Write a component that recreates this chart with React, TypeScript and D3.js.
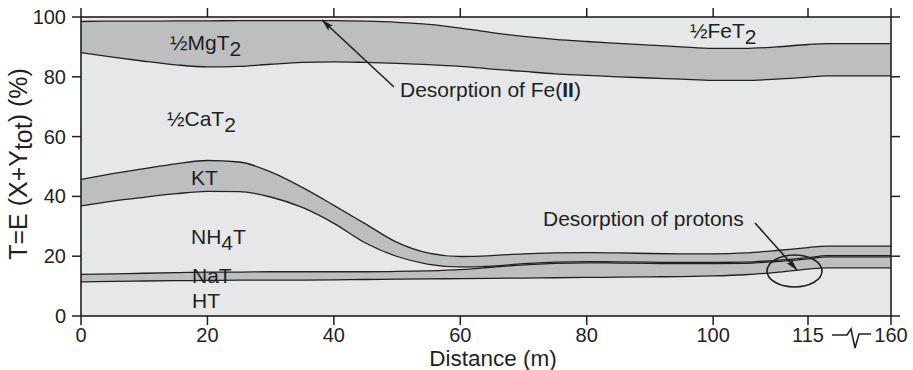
import React from 'react';
import * as d3 from 'd3';

// Distance along the flow path (m); the axis is broken between 115 and 160
const distance = [0, 5, 10, 15, 20, 25, 30, 35, 40, 45, 50, 55, 60, 65, 70, 75, 80, 85, 90, 95, 100, 105, 110, 115, 125, 160];

// Equivalent fractions of the exchanger (%), bottom to top
const HT = [11.4, 11.6, 11.7, 11.8, 11.9, 12.0, 12.0, 12.0, 12.1, 12.2, 12.3, 12.4, 12.5, 12.6, 12.7, 12.8, 12.9, 13.0, 13.1, 13.2, 13.4, 13.8, 14.6, 15.7, 16.1, 16.1];
const NaT = [2.5, 2.5, 2.6, 2.7, 2.8, 2.7, 2.8, 2.8, 2.7, 2.6, 2.6, 2.7, 3.0, 3.7, 4.4, 4.8, 4.9, 4.7, 4.5, 4.3, 4.1, 3.8, 3.6, 3.4, 3.7, 3.7];
const NH4T = [22.9, 24.3, 25.4, 26.4, 27.0, 26.9, 25.0, 21.5, 16.2, 9.6, 5.0, 2.2, 0.9, 0.4, 0.4, 0.4, 0.4, 0.4, 0.4, 0.4, 0.4, 0.4, 0.4, 0.4, 0.4, 0.4];
const KT = [8.9, 9.2, 9.6, 10.0, 10.3, 9.9, 8.4, 6.7, 6.0, 6.4, 4.7, 3.7, 3.5, 3.5, 3.3, 3.1, 3.0, 3.0, 2.9, 2.9, 2.9, 3.1, 3.3, 3.4, 3.2, 3.2];
const CaT = [42.4, 39.0, 35.9, 33.1, 31.3, 32.0, 36.0, 41.8, 48.0, 54.0, 59.9, 63.1, 63.6, 62.4, 61.0, 59.9, 59.3, 58.9, 58.7, 58.4, 58.0, 57.7, 57.3, 57.0, 56.9, 56.9];
const MgT = [10.4, 12.0, 13.4, 14.7, 15.4, 15.3, 14.6, 14.0, 13.8, 13.8, 13.7, 13.4, 12.8, 12.2, 11.7, 11.5, 11.3, 11.2, 11.0, 10.8, 10.7, 10.7, 10.8, 10.9, 10.8, 10.8];
const FeT = [1.5, 1.4, 1.4, 1.3, 1.3, 1.2, 1.2, 1.2, 1.2, 1.4, 1.8, 2.5, 3.7, 5.2, 6.5, 7.5, 8.2, 8.8, 9.4, 10.0, 10.5, 10.5, 10.0, 9.2, 8.9, 8.9];

const speciesKeys = ['HT', 'NaT', 'NH4T', 'KT', 'CaT', 'MgT', 'FeT'];
const speciesValues: Record<string, number[]> = { HT, NaT, NH4T, KT, CaT, MgT, FeT };

const xTicks = [0, 20, 40, 60, 80, 100, 115, 160];
const yTicks = [0, 20, 40, 60, 80, 100];

const LIGHT = '#e6e7e8';
const GREY = '#bcbec0';
const INK = '#231f20';
const FONT = '"Liberation Sans", Arial, Helvetica, sans-serif';

export default function App() {
  const width = 913;
  const height = 370;
  const left = 81, right = 891, top = 17, bottom = 316;

  const x = d3.scaleLinear().domain([0, 115, 160]).range([left, 808, right]);
  const y = d3.scaleLinear().domain([0, 100]).range([bottom, top]);

  const rows = distance.map((d, i) => {
    const r: Record<string, number> = { distance: d };
    speciesKeys.forEach((k) => (r[k] = speciesValues[k][i]));
    return r;
  });
  const stacked = d3.stack<Record<string, number>>().keys(speciesKeys)(rows);

  const area = d3
    .area<[number, number]>()
    .x((_, i) => x(distance[i]))
    .y0((d) => y(d[0]))
    .y1((d) => y(d[1]))
    .curve(d3.curveMonotoneX);

  const line = d3
    .line<[number, number]>()
    .x((_, i) => x(distance[i]))
    .y((d) => y(d[1]))
    .curve(d3.curveMonotoneX);

  const fills = [LIGHT, GREY, LIGHT, GREY, LIGHT, GREY, LIGHT];
  const tick = 9;

  return (
    <svg
      width={width}
      height={height}
      style={{ position: 'absolute', left: 0, top: 0, background: '#fff' }}
      fontFamily={FONT}
    >
      <defs>
        <marker id="arrowHead" viewBox="0 0 12 8" refX="12" refY="4" markerWidth="12" markerHeight="8" markerUnits="userSpaceOnUse" orient="auto">
          <path d="M0,0.6 L12,4 L0,7.4 L2.5,4 Z" fill={INK} />
        </marker>
        <clipPath id="plotClip">
          <rect x={left} y={top} width={right - left} height={bottom - top} />
        </clipPath>
      </defs>

      <g clipPath="url(#plotClip)">
        {stacked.map((s, i) => (
          <path key={s.key} d={area(s as any) || ''} fill={fills[i]} stroke="none" />
        ))}
        {stacked.slice(0, -1).map((s) => (
          <path key={'l' + s.key} d={line(s as any) || ''} fill="none" stroke={INK} strokeWidth={1.3} />
        ))}
      </g>

      {/* frame */}
      <rect x={left} y={top} width={right - left} height={bottom - top} fill="none" stroke={INK} strokeWidth={1.6} />

      {/* x ticks, bottom and top */}
      {xTicks.map((t) => (
        <g key={'xt' + t}>
          <line x1={x(t)} x2={x(t)} y1={bottom} y2={bottom + tick} stroke={INK} strokeWidth={1.5} />
          <line x1={x(t)} x2={x(t)} y1={top} y2={top - tick} stroke={INK} strokeWidth={1.5} />
          <text x={x(t)} y={342} textAnchor="middle" fontSize={20} fill={INK}>
            {t}
          </text>
        </g>
      ))}

      {/* axis break marker between 115 and 160 */}
      <path d="M832,335 L847,335 L851,329 L855,348 L859,334 L871,334" fill="none" stroke={INK} strokeWidth={1.6} strokeLinejoin="miter" />

      {/* y ticks, left and right */}
      {yTicks.map((t) => (
        <g key={'yt' + t}>
          <line x1={left - tick} x2={left} y1={y(t)} y2={y(t)} stroke={INK} strokeWidth={1.5} />
          <line x1={right} x2={right + tick} y1={y(t)} y2={y(t)} stroke={INK} strokeWidth={1.5} />
          <text x={66} y={y(t) + 7} textAnchor="end" fontSize={20} fill={INK}>
            {t}
          </text>
        </g>
      ))}

      {/* axis titles */}
      <text x={493} y={366} textAnchor="middle" fontSize={22.5} fill={INK}>
        Distance (m)
      </text>
      <text transform="translate(27,164) rotate(-90)" textAnchor="middle" fontSize={25} fill={INK}>
        T=E (X+Y<tspan dy={5}>tot</tspan>
        <tspan dy={-5}>) (%)</tspan>
      </text>

      {/* exchanger species labels */}
      <g fontSize={21} fill={INK}>
        <text x={170} y={50}>
          ½MgT<tspan dy={6}>2</tspan>
        </text>
        <text x={167} y={126}>
          ½CaT<tspan dy={6}>2</tspan>
        </text>
        <text x={690} y={38}>
          ½FeT<tspan dy={6}>2</tspan>
        </text>
        <text x={191} y={185}>KT</text>
        <text x={191} y={244}>
          NH<tspan dy={6}>4</tspan>
          <tspan dy={-6}>T</tspan>
        </text>
        <text x={192} y={283}>NaT</text>
        <text x={192} y={308}>HT</text>
      </g>

      {/* annotations */}
      <g fontSize={21} fill={INK}>
        <text x={400} y={97}>
          Desorption of Fe(<tspan fontWeight="bold">II</tspan>)
        </text>
        <text x={543} y={226}>Desorption of protons</text>
      </g>
      <line x1={394} y1={87} x2={322} y2={20} stroke={INK} strokeWidth={1.6} markerEnd="url(#arrowHead)" />
      <line x1={755} y1={223} x2={797} y2={270} stroke={INK} strokeWidth={1.6} markerEnd="url(#arrowHead)" />
      <ellipse cx={794.5} cy={271} rx={27.5} ry={16} fill="none" stroke={INK} strokeWidth={1.6} />
    </svg>
  );
}
